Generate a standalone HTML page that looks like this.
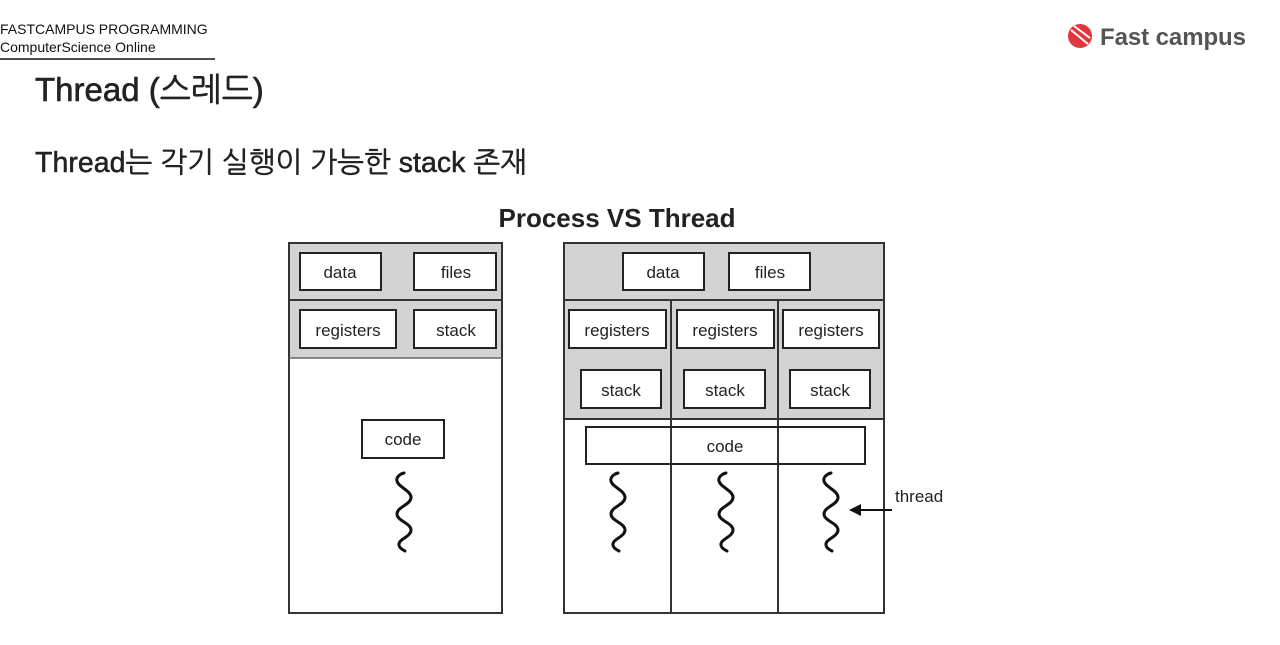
<!DOCTYPE html>
<html><head><meta charset="utf-8"><style>
html,body{margin:0;padding:0;background:#fff;width:1280px;height:645px;overflow:hidden}
svg{display:block}
</style></head><body>
<svg width="1280" height="645" viewBox="0 0 1280 645" xmlns="http://www.w3.org/2000/svg">
<defs>
<path id="sq" d="M1,473 C-3,474 -7,477 -6,481 C-5,487 9,491 8,498 C7,505 -6,507 -6,514 C-6,521 8,523 8,530 C8,537 -5,539 -4,545 C-4,548 0,550 2,551" fill="none" stroke="#111" stroke-width="3" stroke-linecap="round"/>
</defs>
<g font-family="'Liberation Sans','NanumGothic',sans-serif">
<text x="0" y="34" font-size="14" fill="#111">FASTCAMPUS PROGRAMMING</text>
<text x="0" y="52" font-size="14" fill="#111">ComputerScience Online</text>
<line x1="0" y1="59" x2="215" y2="59" stroke="#111" stroke-width="1.5"/>
<text x="35" y="101" font-size="33" fill="#222" stroke="#222" stroke-width="0.6">Thread (스레드)</text>
<text x="35" y="172" font-size="28.5" fill="#222" stroke="#222" stroke-width="0.5" textLength="492">Thread는 각기 실행이 가능한 stack 존재</text>
<text x="617" y="227" font-size="26" font-weight="bold" fill="#222" text-anchor="middle">Process VS Thread</text>
<!-- logo -->
<circle cx="1080" cy="36" r="12" fill="#e0383e"/>
<path d="M1071,30 L1088,44 M1074,26 L1090,38" stroke="#fff" stroke-width="2"/>
<text x="1100" y="45" font-size="24" font-weight="bold" fill="#555" textLength="146">Fast campus</text>
</g>
<g font-family="'Liberation Sans',sans-serif" font-size="17" fill="#222" stroke-linejoin="miter">
<!-- left -->
<rect x="289" y="243" width="213" height="115" fill="#d3d3d3"/>
<rect x="289" y="243" width="213" height="370" fill="none" stroke="#333" stroke-width="2"/>
<line x1="289" y1="300" x2="502" y2="300" stroke="#333" stroke-width="2"/>
<line x1="289" y1="358" x2="502" y2="358" stroke="#666" stroke-width="1.5"/>
<g fill="#fff" stroke="#222" stroke-width="2">
<rect x="300" y="253" width="81" height="37"/><rect x="414" y="253" width="82" height="37"/>
<rect x="300" y="310" width="96" height="38"/><rect x="414" y="310" width="82" height="38"/>
<rect x="362" y="420" width="82" height="38"/>
</g>
<g text-anchor="middle">
<text x="340" y="278">data</text><text x="456" y="278">files</text>
<text x="348" y="336">registers</text><text x="456" y="336">stack</text>
<text x="403" y="445">code</text>
</g>
<use href="#sq" x="403"/>
<!-- right -->
<rect x="564" y="243" width="320" height="176" fill="#d3d3d3"/>
<rect x="564" y="243" width="320" height="370" fill="none" stroke="#333" stroke-width="2"/>
<line x1="564" y1="300" x2="884" y2="300" stroke="#333" stroke-width="2"/>
<line x1="564" y1="419" x2="884" y2="419" stroke="#333" stroke-width="2"/>
<line x1="671" y1="300" x2="671" y2="613" stroke="#333" stroke-width="2"/>
<line x1="778" y1="300" x2="778" y2="613" stroke="#333" stroke-width="2"/>
<g fill="#fff" stroke="#222" stroke-width="2">
<rect x="623" y="253" width="81" height="37"/><rect x="729" y="253" width="81" height="37"/>
<rect x="569" y="310" width="97" height="38"/><rect x="677" y="310" width="97" height="38"/><rect x="783" y="310" width="96" height="38"/>
<rect x="581" y="370" width="80" height="38"/><rect x="684" y="370" width="81" height="38"/><rect x="790" y="370" width="80" height="38"/>
<rect x="586" y="427" width="279" height="37" fill="none"/>
</g>
<g text-anchor="middle">
<text x="663" y="278">data</text><text x="770" y="278">files</text>
<text x="617" y="336">registers</text><text x="725" y="336">registers</text><text x="831" y="336">registers</text>
<text x="621" y="396">stack</text><text x="725" y="396">stack</text><text x="830" y="396">stack</text>
<text x="725" y="452">code</text>
</g>
<use href="#sq" x="617"/><use href="#sq" x="725"/><use href="#sq" x="830"/>
<line x1="892" y1="510" x2="858" y2="510" stroke="#111" stroke-width="2"/>
<polygon points="849,510 861,504 861,516" fill="#111"/>
<text x="895" y="502">thread</text>
</g>
</svg>
</body></html>
